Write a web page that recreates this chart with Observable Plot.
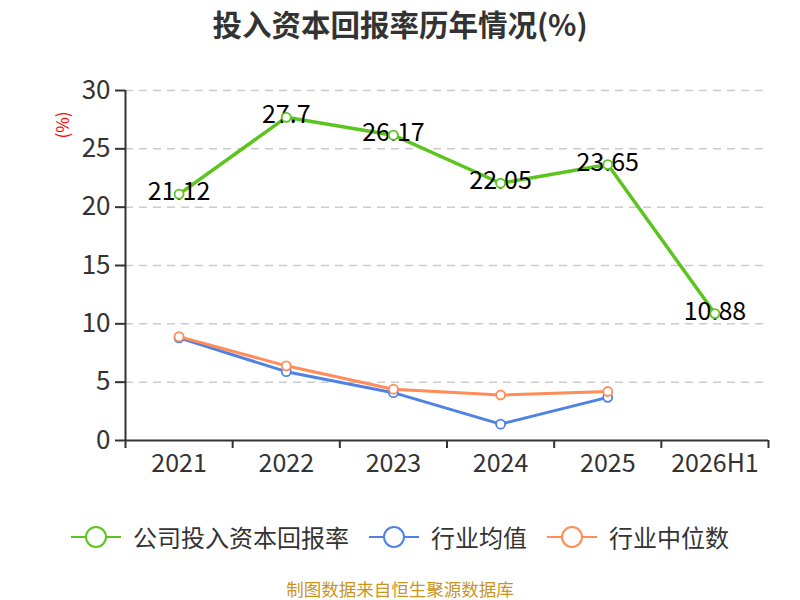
<!DOCTYPE html>
<html><head><meta charset="utf-8">
<script src="https://cdn.jsdelivr.net/npm/d3@7"></script>
<script src="https://cdn.jsdelivr.net/npm/@observablehq/plot@0.6"></script>
<style>
body{margin:0;width:800px;height:600px;position:relative;background:#fff;font-family:"Noto Sans CJK SC","Noto Sans",sans-serif;overflow:hidden}
#title{position:absolute;top:0;left:0;width:800px;text-align:center;font-size:29.5px;font-weight:bold;color:#333;line-height:46px}
#chart{position:absolute;top:50px;left:0}
#ylab{position:absolute;left:37px;top:113px;width:50px;height:24px;line-height:24px;text-align:center;font-size:17px;color:#f00;transform:rotate(-90deg)}
#legend{position:absolute;top:520px;left:0;width:800px;display:flex;justify-content:center;align-items:center}
.item{display:flex;align-items:center;margin:0 10px;font-size:24px;color:#333;line-height:34px}
.item svg{margin-right:12px}
#caption{position:absolute;top:579px;left:0;width:800px;text-align:center;font-size:17.5px;color:#c9951f;line-height:20px}
</style></head>
<body>
<div id="title"></div>
<div id="ylab">(%)</div>
<div id="chart"></div>
<div id="legend"></div>
<div id="caption"></div>
<script>
const titleText = "投入资本回报率历年情况(%)";
const captionText = "制图数据来自恒生聚源数据库";
const categories = ["2021", "2022", "2023", "2024", "2025", "2026H1"];
const companyROIC = [21.12, 27.7, 26.17, 22.05, 23.65, 10.88];
const industryMean = [8.8, 5.9, 4.1, 1.4, 3.7];
const industryMedian = [8.9, 6.4, 4.4, 3.9, 4.2];
const yTicks = [0, 5, 10, 15, 20, 25, 30];
const seriesNames = ["公司投入资本回报率", "行业均值", "行业中位数"];
const seriesColors = ["#5cc41f", "#4f82e4", "#ff8c59"];

document.getElementById("title").textContent = titleText;
document.getElementById("caption").textContent = captionText;

const toRows = arr => arr.map((v, i) => ({i, v}));
const comp = toRows(companyROIC);
const mean = toRows(industryMean);
const median = toRows(industryMedian);
const idx = categories.map((_, i) => i);
const bounds = [-0.5, ...idx.map(i => i + 0.5)];

function series(rows, color, sw, labels) {
  const m = [Plot.line(rows, {x: "i", y: "v", stroke: color, strokeWidth: sw})];
  if (labels) m.push(Plot.text(rows, {x: "i", y: "v", text: d => String(d.v), fontSize: 25, fill: "#000", dy: -2}));
  m.push(Plot.dot(rows, {x: "i", y: "v", r: 4.5, fill: "#fff", stroke: color, strokeWidth: 1.8}));
  return m;
}

const chart = Plot.plot({
  width: 800, height: 430,
  marginTop: 40, marginBottom: 40, marginLeft: 125, marginRight: 32,
  x: {type: "linear", domain: [-0.5, categories.length - 0.5]},
  y: {domain: [0, 30]},
  style: {fontFamily: '"Noto Sans CJK SC","Noto Sans",sans-serif', background: "transparent", overflow: "visible"},
  marks: [
    Plot.gridY(yTicks.filter(d => d > 0), {stroke: "#ccc", strokeOpacity: 1, strokeDasharray: "8,6", strokeWidth: 1.5}),
    Plot.axisY(yTicks, {tickSize: 10, tickPadding: 5, fontSize: 26, color: "#333", strokeWidth: 2, label: null}),
    Plot.axisX(bounds, {tickSize: 8, tickFormat: () => "", color: "#333", strokeWidth: 2, label: null}),
    Plot.axisX(idx, {tickSize: 0, tickPadding: 14, tickFormat: i => categories[i], fontSize: 25, color: "#333", label: null}),
    Plot.ruleY([0], {stroke: "#333", strokeWidth: 2}),
    Plot.ruleX([-0.5], {stroke: "#333", strokeWidth: 2}),
    ...series(comp, seriesColors[0], 3.5, true),
    ...series(mean, seriesColors[1], 3, false),
    ...series(median, seriesColors[2], 3, false)
  ]
});
document.getElementById("chart").appendChild(chart);

const legend = document.getElementById("legend");
seriesNames.forEach((name, k) => {
  const item = document.createElement("div");
  item.className = "item";
  item.innerHTML = `<svg width="50" height="26"><line x1="0" x2="50" y1="13" y2="13" stroke="${seriesColors[k]}" stroke-width="2"/><circle cx="25" cy="13" r="10" fill="#fff" stroke="${seriesColors[k]}" stroke-width="2"/></svg><span>${name}</span>`;
  legend.appendChild(item);
});
</script>
</body></html>
